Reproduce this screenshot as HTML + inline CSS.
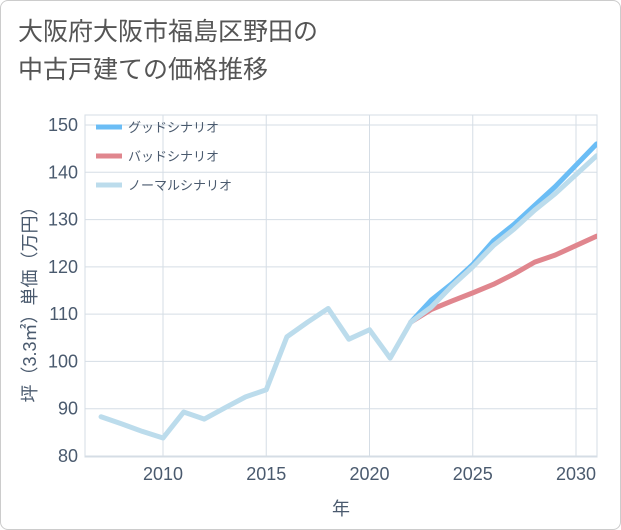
<!DOCTYPE html>
<html><head><meta charset="utf-8"><style>
body{margin:0;background:#fff;font-family:"Liberation Sans","Noto Sans CJK JP",sans-serif}
#wrap{position:relative;width:619px;height:528px;border:1px solid #ccc;border-radius:8px;background:#fff}
.title{position:absolute;left:17px;top:12px;font-size:25px;line-height:38px;color:#555}
</style></head><body>
<div id="wrap">
<div class="title">大阪府大阪市福島区野田の<br>中古戸建ての価格推移</div>
<svg id="svg" width="621" height="530" style="position:absolute;left:-1px;top:-1px"></svg>
</div>
<script>
const years=[2007,2008,2009,2010,2011,2012,2013,2014,2015,2016,2017,2018,2019,2020,2021,2022];
const normalHist=[88.3,86.8,85.2,83.8,89.3,87.8,90.2,92.5,94,105.2,108.3,111.2,104.7,106.7,100.7,108.3];
const futureYears=[2022,2023,2024,2025,2026,2027,2028,2029,2030,2031];
const goodVals=[108.3,113,116.5,120.5,125.5,129,133,137,141.5,146];
const badVals=[108.3,111,112.8,114.5,116.3,118.5,121,122.5,124.5,126.5];
const normalFuture=[108.3,111.5,116,120,124.5,128,132,135.5,139.5,143.5];
const yTicks=[80,90,100,110,120,130,140,150];
const xTicks=[2010,2015,2020,2025,2030];
const L=85,R=597,T=115,B=457;
const x=v=>163+(v-2010)*20.65;
const y=v=>456-(v-80)*(331/70);
const s=document.getElementById('svg');const NS='http://www.w3.org/2000/svg';
function el(t,a,p){const e=document.createElementNS(NS,t);for(const k in a)e.setAttribute(k,a[k]);(p||s).appendChild(e);return e;}
yTicks.forEach(v=>{const g=el('line',{x1:L,x2:R,y1:y(v),y2:y(v),stroke:'#d5dde5','stroke-width':1});

const t=el('text',{x:L-7,y:y(v)+6,'text-anchor':'end','font-size':18,fill:'#4a5a6e'});t.textContent=v;
});
xTicks.forEach(v=>{const g=el('line',{x1:x(v),x2:x(v),y1:T,y2:B,stroke:'#d5dde5','stroke-width':1});

const t=el('text',{x:x(v),y:B+23,'text-anchor':'middle','font-size':18,fill:'#4a5a6e'});t.textContent=v;
});
const bx=el('rect',{x:L,y:T,width:R-L,height:B-T,fill:'none',stroke:'#d5dde5'});

const xt=el('text',{x:341,y:515,'text-anchor':'middle','font-size':18,fill:'#4a5a6e'});xt.textContent='年';

const yt=el('text',{x:0,y:0,transform:'translate(36,300) rotate(-90)','text-anchor':'middle','font-size':18,fill:'#4a5a6e'});yt.textContent='坪（3.3㎡）単価（万円）';

function line(xs,vs,c,n){const p=el('polyline',{points:xs.map((a,i)=>x(a)+','+y(vs[i])).join(' '),fill:'none',stroke:c,'stroke-width':5,'stroke-linejoin':'round','stroke-linecap':'round','clip-path':'url(#clip)'});
}
const cp=el('clipPath',{id:'clip'});el('rect',{x:L,y:T,width:R-L,height:B-T},cp);
line(futureYears,goodVals,'#6bbdf5','good-scenario-line');
line(futureYears,badVals,'#e0868e','bad-scenario-line');
line(years,normalHist,'#bcdcec','normal-history-line');
line(futureYears,normalFuture,'#bcdcec','normal-scenario-line');
const leg=[['グッドシナリオ','#6bbdf5'],['バッドシナリオ','#e0868e'],['ノーマルシナリオ','#bcdcec']];
leg.forEach((l,i)=>{const yy=127+i*29;
const m=el('line',{x1:96,x2:122,y1:yy,y2:yy,stroke:l[1],'stroke-width':5});

const t=el('text',{x:128,y:yy+5,'font-size':13,fill:'#4a5a6e'});t.textContent=l[0];
});
</script>
</body></html>
